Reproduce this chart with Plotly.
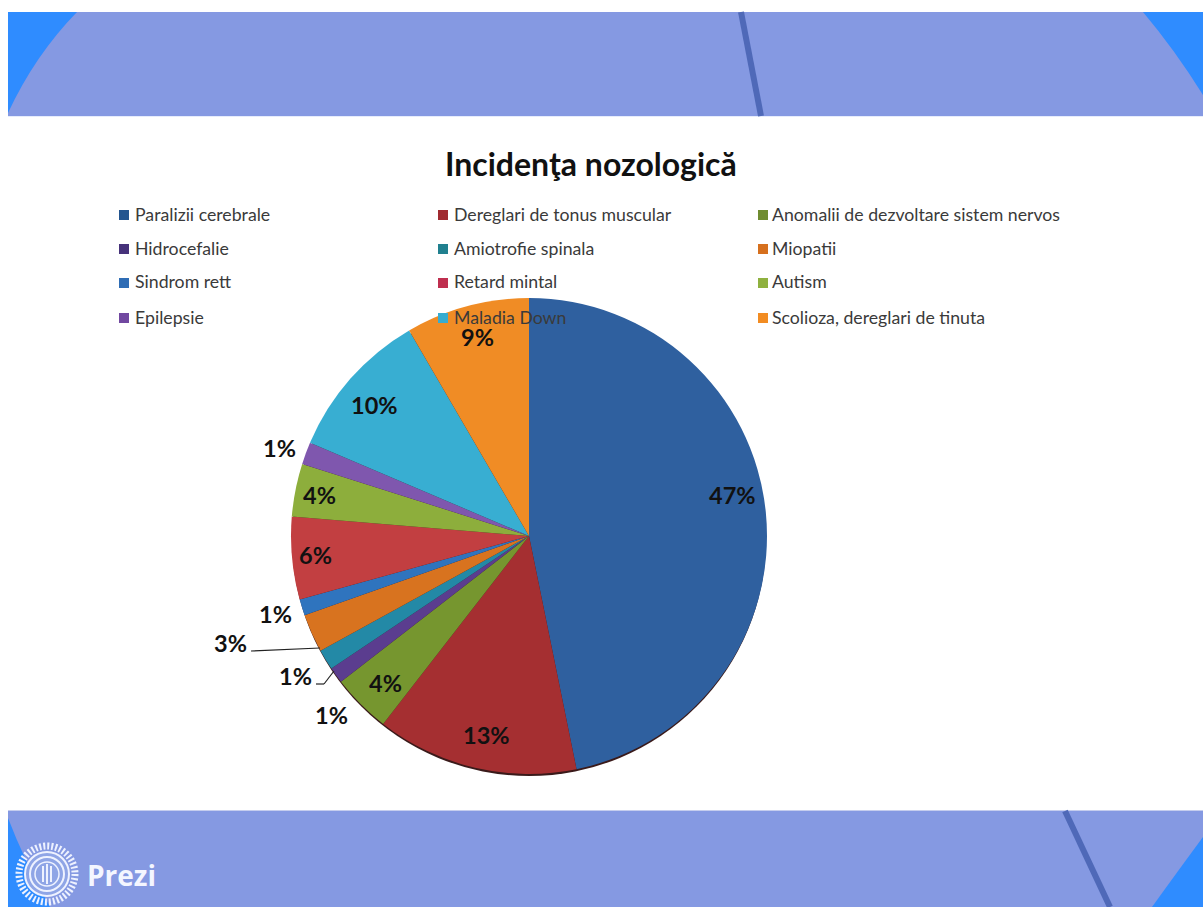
import plotly.graph_objects as go

W, H = 1203, 907
TITLE = "Incidenţa nozologică"
categories = ["Paralizii cerebrale", "Dereglari de tonus muscular", "Anomalii de dezvoltare sistem nervos",
              "Hidrocefalie", "Amiotrofie spinala", "Miopatii",
              "Sindrom rett", "Retard mintal", "Autism",
              "Epilepsie", "Maladia Down", "Scolioza, dereglari de tinuta"]
values = [46.8, 13.7, 4.0, 1.1, 1.4, 2.6, 1.1, 5.6, 3.6, 1.5, 10.2, 8.4]
percent_labels = ["47%", "13%", "4%", "1%", "1%", "3%", "1%", "6%", "4%", "1%", "10%", "9%"]
slice_colors = ["#2F609F", "#A52F31", "#76962F", "#5B3D8F", "#2389A6", "#D8731F",
                "#2F74BE", "#C23F41", "#8DAE3C", "#7F57AE", "#38AED2", "#F08C25"]
legend_colors = ["#23558F", "#A02A30", "#6F8C30", "#46327A", "#20808F", "#D6701E",
                 "#2F6DB5", "#BF2F4F", "#8FB13F", "#7148A0", "#37ACD0", "#F28C22"]
label_pos = [(732, 495), (486, 735), (385, 683), (331, 715), (295, 676), (230, 643),
             (275, 614), (315, 555), (319, 495), (279, 448), (374, 405), (477, 337)]
legend_col_swatch = [119, 438, 758]
legend_col_text = [133, 452, 770]
legend_rows = [214, 248, 282, 317]

def px(x): return x / W
def py(y): return 1 - y / H

def P(cmd, x, y):
    return f"{cmd}{px(x):.5f},{py(y):.5f}"

def curved(a, c, b, rest, color):
    d = P("M", *a) + " " + P("Q", *c) + f" {px(b[0]):.5f},{py(b[1]):.5f} " + \
        " ".join(P("L", *p) for p in rest) + " Z"
    return dict(type="path", xref="paper", yref="paper", path=d, fillcolor=color,
                line=dict(width=0), layer="below")

def rect(x0, y0, x1, y1, color, layer="below"):
    return dict(type="rect", xref="paper", yref="paper", x0=px(x0), x1=px(x1), y0=py(y0), y1=py(y1),
                fillcolor=color, line=dict(width=0), layer=layer)

def seg(x0, y0, x1, y1, color, width, layer="below"):
    return dict(type="line", xref="paper", yref="paper", x0=px(x0), x1=px(x1), y0=py(y0), y1=py(y1),
                line=dict(color=color, width=width), layer=layer)

def circ(cx, cy, r, fill=None, line=None, layer="below"):
    return dict(type="circle", xref="paper", yref="paper", x0=px(cx - r), x1=px(cx + r),
                y0=py(cy + r), y1=py(cy - r), fillcolor=fill or "rgba(0,0,0,0)",
                line=line or dict(width=0), layer=layer)

BAND = "#8599E2"
BLUE = "#2F8CFF"
LOGO = "#EEF2FF"
shapes = [
    rect(8, 12, W, 116, BAND),
    rect(8, 116, W, 117, "#E6ECFC"),
    curved((77, 12), (35, 55), (8, 113), [(8, 12)], BLUE),
    curved((1143, 12), (1175, 50), (1203, 95), [(1203, 12)], BLUE),
    seg(741, 12, 761, 116, "#4F69B8", 6),
    rect(8, 811, W, 907, BAND),
    rect(8, 810, W, 811, "#C5CDEE"),
    curved((8, 818), (24, 860), (50, 907), [(8, 907)], BLUE),
    curved((1203, 837), (1175, 875), (1152, 907), [(1203, 907)], BLUE),
    seg(1065, 811, 1110, 907, "#4F69B8", 6),
    # Prezi logo
    circ(47, 874, 28, line=dict(color=LOGO, width=7, dash="2px,2px")),
    circ(47, 874, 22, fill="#8FA5E6", line=dict(color=LOGO, width=2)),
    circ(47, 874, 17, line=dict(color=LOGO, width=2)),
    circ(47, 874, 12, line=dict(color=LOGO, width=1.5)),
    seg(43, 866, 43, 882, LOGO, 2),
    seg(47, 864, 47, 884, LOGO, 2),
    seg(51, 866, 51, 882, LOGO, 2),
    # pie drop shadow
    circ(529, 539, 237, fill="#3A1A1A"),
    # leader lines
    seg(251, 651, 320, 648, "#222222", 1.2, "above"),
    seg(316, 684, 324, 684, "#222222", 1.2, "above"),
    seg(324, 684, 334, 671, "#222222", 1.2, "above"),
]

annotations = [dict(text=f"<b>{TITLE}</b>", x=px(591), y=py(163), xref="paper", yref="paper",
                    xanchor="center", yanchor="middle", showarrow=False,
                    font=dict(family="Lato", size=32, color="#111111")),
               dict(text="<b>Prezi</b>", x=px(85), y=py(875), xref="paper", yref="paper",
                    xanchor="left", yanchor="middle", showarrow=False,
                    font=dict(family="Open Sans", size=28, color="#F4F6FF"))]

for i, name in enumerate(categories):
    row, col = divmod(i, 3)
    y = legend_rows[row]
    x0 = legend_col_swatch[col]
    shapes.append(rect(x0, y - 4, x0 + 10, y + 6, legend_colors[i], "above"))
    annotations.append(dict(text=name, x=px(legend_col_text[col]), y=py(y), xref="paper", yref="paper",
                            xanchor="left", yanchor="middle", showarrow=False,
                            font=dict(family="Lato", size=17.7, color="#3A3A3A")))

for (x, y), t in zip(label_pos, percent_labels):
    annotations.append(dict(text=f"<b>{t}</b>", x=px(x), y=py(y), xref="paper", yref="paper",
                            xanchor="center", yanchor="middle", showarrow=False,
                            font=dict(family="Lato", size=23.5, color="#111111")))

R = 238
fig = go.Figure(go.Pie(
    labels=categories, values=values, sort=False, direction="clockwise", rotation=0,
    textinfo="none", showlegend=False,
    marker=dict(colors=slice_colors, line=dict(width=0)),
    domain=dict(x=[px(529 - R), px(529 + R)], y=[py(536 + R), py(536 - R)]),
))
fig.update_layout(width=W, height=H, margin=dict(l=0, r=0, t=0, b=0), showlegend=False,
                  paper_bgcolor="white", shapes=shapes, annotations=annotations)
fig.write_html("out.html", config=dict(displayModeBar=False),
               post_script="document.body.style.margin='0';document.body.style.overflow='hidden';")
